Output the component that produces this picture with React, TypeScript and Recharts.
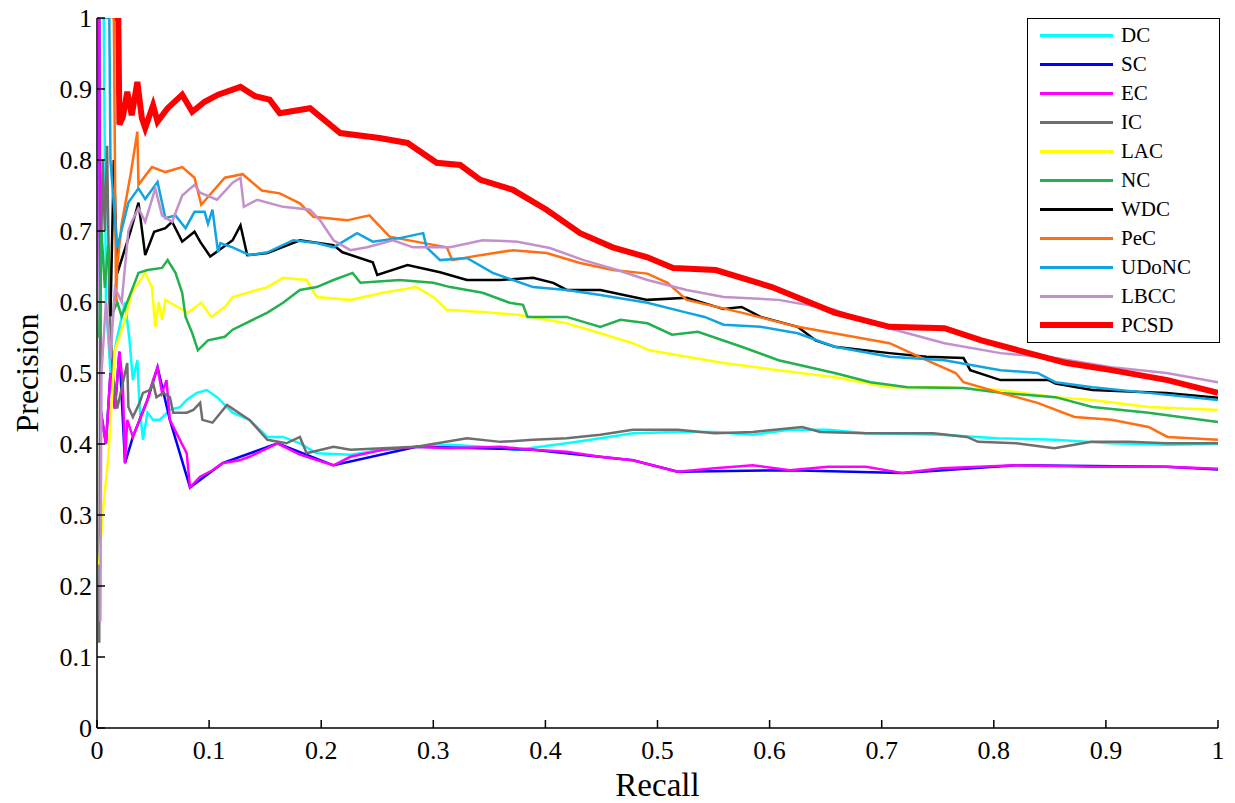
import React from 'react'
import { LineChart, Line, XAxis, YAxis, Legend } from 'recharts'

type Pt = [number, number]

const FONT = '"Liberation Serif", "Times New Roman", serif'

const axisTicks = [0, 0.1, 0.2, 0.3, 0.4, 0.5, 0.6, 0.7, 0.8, 0.9, 1]

// recall, precision
const dcPts: Pt[] = [
  [0.003, 1], [0.006, 1], [0.008, 0.6], [0.012, 0.5], [0.018, 0.55], [0.025, 0.6],
  [0.029, 0.546], [0.032, 0.49], [0.036, 0.518], [0.038, 0.452], [0.041, 0.406],
  [0.045, 0.444], [0.05, 0.434], [0.056, 0.434], [0.065, 0.448], [0.074, 0.452],
  [0.08, 0.462], [0.089, 0.472], [0.098, 0.476], [0.107, 0.466], [0.121, 0.444],
  [0.136, 0.434], [0.152, 0.41], [0.166, 0.41], [0.181, 0.401], [0.196, 0.387],
  [0.226, 0.385], [0.255, 0.392], [0.285, 0.396], [0.315, 0.399], [0.344, 0.396],
  [0.375, 0.392], [0.419, 0.401], [0.449, 0.408], [0.478, 0.415], [0.518, 0.417],
  [0.551, 0.417], [0.585, 0.413], [0.618, 0.42], [0.652, 0.42], [0.686, 0.415],
  [0.753, 0.413], [0.803, 0.408], [0.854, 0.406], [0.904, 0.401], [0.954, 0.399], [1, 0.4],
]

const scPts: Pt[] = [
  [0.002, 1], [0.003, 0.45], [0.008, 0.4], [0.012, 0.5], [0.016, 0.45], [0.02, 0.53],
  [0.025, 0.373], [0.032, 0.41], [0.045, 0.462], [0.054, 0.508], [0.065, 0.434],
  [0.083, 0.339], [0.112, 0.373], [0.161, 0.401], [0.211, 0.37], [0.285, 0.396],
  [0.389, 0.392], [0.478, 0.377], [0.518, 0.361], [0.618, 0.363], [0.719, 0.359],
  [0.82, 0.37], [0.954, 0.368], [1, 0.364],
]

const ecPts: Pt[] = [
  [0.002, 1], [0.003, 0.45], [0.008, 0.4], [0.012, 0.5], [0.016, 0.45], [0.02, 0.53],
  [0.023, 0.486], [0.025, 0.373], [0.027, 0.434], [0.032, 0.41], [0.038, 0.434],
  [0.045, 0.462], [0.05, 0.49], [0.054, 0.508], [0.058, 0.472], [0.062, 0.49],
  [0.065, 0.434], [0.071, 0.415], [0.08, 0.387], [0.083, 0.339], [0.092, 0.354],
  [0.103, 0.363], [0.112, 0.373], [0.127, 0.377], [0.136, 0.382], [0.161, 0.401],
  [0.172, 0.392], [0.181, 0.385], [0.211, 0.37], [0.226, 0.382], [0.255, 0.392],
  [0.285, 0.396], [0.315, 0.394], [0.36, 0.396], [0.389, 0.392], [0.419, 0.389],
  [0.449, 0.382], [0.478, 0.377], [0.501, 0.368], [0.518, 0.361], [0.551, 0.366],
  [0.585, 0.37], [0.618, 0.363], [0.652, 0.368], [0.686, 0.368], [0.719, 0.359],
  [0.753, 0.366], [0.82, 0.37], [0.887, 0.368], [0.954, 0.368], [1, 0.365],
]

const icPts: Pt[] = [
  [0.002, 0.12], [0.003, 0.6], [0.005, 0.8], [0.007, 0.7], [0.009, 0.82], [0.011, 0.6],
  [0.014, 0.5], [0.018, 0.45], [0.027, 0.514], [0.028, 0.452], [0.032, 0.438],
  [0.038, 0.458], [0.041, 0.472], [0.047, 0.476], [0.05, 0.486], [0.053, 0.466],
  [0.059, 0.472], [0.065, 0.466], [0.068, 0.444], [0.08, 0.444], [0.086, 0.448],
  [0.092, 0.458], [0.094, 0.434], [0.103, 0.43], [0.116, 0.455], [0.136, 0.434],
  [0.152, 0.406], [0.169, 0.401], [0.181, 0.41], [0.187, 0.387], [0.211, 0.396],
  [0.226, 0.392], [0.255, 0.394], [0.285, 0.396], [0.33, 0.408], [0.36, 0.403],
  [0.389, 0.406], [0.419, 0.408], [0.449, 0.413], [0.478, 0.42], [0.518, 0.42],
  [0.551, 0.415], [0.585, 0.417], [0.629, 0.424], [0.645, 0.417], [0.686, 0.415],
  [0.746, 0.415], [0.776, 0.41], [0.786, 0.403], [0.82, 0.401], [0.854, 0.394],
  [0.887, 0.403], [0.921, 0.403], [0.954, 0.401], [1, 0.401],
]

const lacPts: Pt[] = [
  [0.002, 0.23], [0.005, 0.3], [0.01, 0.38], [0.016, 0.532], [0.025, 0.575],
  [0.031, 0.613], [0.043, 0.641], [0.049, 0.621], [0.052, 0.565], [0.055, 0.6],
  [0.058, 0.575], [0.061, 0.603], [0.072, 0.593], [0.081, 0.585], [0.093, 0.599],
  [0.102, 0.579], [0.114, 0.593], [0.121, 0.607], [0.152, 0.621], [0.166, 0.634],
  [0.187, 0.631], [0.196, 0.607], [0.226, 0.603], [0.255, 0.613], [0.285, 0.621],
  [0.3, 0.607], [0.312, 0.589], [0.344, 0.586], [0.375, 0.582], [0.419, 0.57],
  [0.449, 0.556], [0.478, 0.542], [0.493, 0.532], [0.526, 0.523], [0.559, 0.514],
  [0.608, 0.504], [0.658, 0.494], [0.707, 0.48], [0.756, 0.48], [0.806, 0.476],
  [0.855, 0.466], [0.888, 0.462], [0.938, 0.452], [1, 0.448],
]

const ncPts: Pt[] = [
  [0.002, 0.55], [0.004, 0.7], [0.007, 0.62], [0.01, 0.68], [0.013, 0.58], [0.018, 0.6],
  [0.022, 0.58], [0.027, 0.6], [0.037, 0.641], [0.045, 0.645], [0.058, 0.648],
  [0.063, 0.659], [0.07, 0.641], [0.076, 0.613], [0.079, 0.579], [0.085, 0.556],
  [0.09, 0.532], [0.099, 0.546], [0.114, 0.551], [0.121, 0.561], [0.152, 0.585],
  [0.166, 0.599], [0.181, 0.617], [0.196, 0.621], [0.211, 0.631], [0.228, 0.641],
  [0.235, 0.627], [0.27, 0.631], [0.3, 0.627], [0.315, 0.621], [0.344, 0.613],
  [0.368, 0.599], [0.38, 0.596], [0.384, 0.579], [0.419, 0.579], [0.449, 0.565],
  [0.467, 0.575], [0.491, 0.57], [0.513, 0.554], [0.536, 0.558], [0.575, 0.537],
  [0.608, 0.518], [0.658, 0.5], [0.69, 0.487], [0.723, 0.48], [0.773, 0.479],
  [0.806, 0.472], [0.855, 0.466], [0.888, 0.452], [0.938, 0.444], [1, 0.431],
]

const wdcPts: Pt[] = [
  [0.012, 0.58], [0.015, 0.8], [0.018, 0.64], [0.022, 0.66], [0.03, 0.7], [0.037, 0.74],
  [0.043, 0.666], [0.051, 0.699], [0.061, 0.704], [0.067, 0.713], [0.076, 0.685],
  [0.087, 0.699], [0.092, 0.685], [0.101, 0.664], [0.121, 0.687], [0.128, 0.708],
  [0.134, 0.666], [0.152, 0.669], [0.181, 0.687], [0.211, 0.68], [0.219, 0.67],
  [0.246, 0.656], [0.25, 0.638], [0.277, 0.652], [0.306, 0.642], [0.33, 0.631],
  [0.36, 0.631], [0.389, 0.634], [0.407, 0.627], [0.419, 0.617], [0.449, 0.617],
  [0.491, 0.603], [0.526, 0.606], [0.559, 0.59], [0.575, 0.593], [0.592, 0.579],
  [0.625, 0.565], [0.641, 0.546], [0.658, 0.537], [0.707, 0.528], [0.74, 0.523],
  [0.773, 0.521], [0.779, 0.504], [0.806, 0.49], [0.849, 0.49], [0.855, 0.485],
  [0.888, 0.476], [0.954, 0.472], [1, 0.465],
]

const pecPts: Pt[] = [
  [0.013, 1], [0.015, 1], [0.017, 0.6], [0.018, 0.65], [0.022, 0.71], [0.03, 0.78],
  [0.036, 0.84], [0.037, 0.765], [0.049, 0.79], [0.061, 0.783], [0.076, 0.79],
  [0.087, 0.775], [0.093, 0.737], [0.114, 0.775], [0.13, 0.78], [0.147, 0.757],
  [0.163, 0.753], [0.181, 0.739], [0.193, 0.72], [0.223, 0.715], [0.243, 0.722],
  [0.261, 0.692], [0.288, 0.684], [0.312, 0.677], [0.317, 0.659], [0.342, 0.666],
  [0.371, 0.673], [0.401, 0.669], [0.431, 0.655], [0.46, 0.645], [0.491, 0.64],
  [0.509, 0.627], [0.526, 0.603], [0.575, 0.585], [0.625, 0.565], [0.707, 0.542],
  [0.74, 0.518], [0.766, 0.5], [0.773, 0.487], [0.806, 0.472], [0.839, 0.458],
  [0.872, 0.438], [0.905, 0.434], [0.938, 0.424], [0.955, 0.41], [1, 0.406],
]

const udoncPts: Pt[] = [
  [0.005, 1], [0.011, 1], [0.012, 0.8], [0.018, 0.676], [0.028, 0.74], [0.037, 0.76],
  [0.043, 0.745], [0.054, 0.769], [0.061, 0.718], [0.07, 0.722], [0.079, 0.704],
  [0.087, 0.727], [0.096, 0.727], [0.099, 0.71], [0.103, 0.73], [0.108, 0.67],
  [0.11, 0.683], [0.121, 0.677], [0.136, 0.666], [0.152, 0.67], [0.175, 0.687],
  [0.196, 0.683], [0.211, 0.677], [0.232, 0.697], [0.246, 0.685], [0.27, 0.69],
  [0.291, 0.697], [0.294, 0.677], [0.306, 0.659], [0.33, 0.662], [0.353, 0.641],
  [0.371, 0.631], [0.389, 0.621], [0.419, 0.617], [0.449, 0.61], [0.491, 0.599],
  [0.526, 0.585], [0.542, 0.579], [0.559, 0.568], [0.592, 0.565], [0.625, 0.556],
  [0.658, 0.537], [0.707, 0.523], [0.756, 0.518], [0.806, 0.504], [0.839, 0.5],
  [0.855, 0.487], [0.888, 0.48], [0.938, 0.472], [1, 0.462],
]

const lbccPts: Pt[] = [
  [0.003, 0.15], [0.004, 0.5], [0.008, 0.6], [0.012, 0.52], [0.016, 0.62], [0.022, 0.6],
  [0.028, 0.7], [0.031, 0.713], [0.037, 0.732], [0.043, 0.713], [0.052, 0.76],
  [0.058, 0.722], [0.067, 0.713], [0.076, 0.75], [0.087, 0.765], [0.092, 0.754],
  [0.107, 0.744], [0.121, 0.768], [0.128, 0.775], [0.131, 0.734], [0.143, 0.744],
  [0.166, 0.734], [0.19, 0.73], [0.199, 0.715], [0.211, 0.687], [0.226, 0.673],
  [0.241, 0.677], [0.264, 0.687], [0.282, 0.677], [0.315, 0.677], [0.344, 0.687],
  [0.375, 0.685], [0.404, 0.676], [0.434, 0.659], [0.464, 0.645], [0.491, 0.631],
  [0.526, 0.617], [0.559, 0.607], [0.608, 0.603], [0.658, 0.589], [0.69, 0.57],
  [0.723, 0.556], [0.756, 0.542], [0.806, 0.528], [0.855, 0.521], [0.905, 0.508],
  [0.954, 0.5], [1, 0.487],
]

const pcsdPts: Pt[] = [
  [0.016, 1], [0.019, 1], [0.02, 0.85], [0.023, 0.86], [0.027, 0.896], [0.031, 0.863],
  [0.036, 0.91], [0.04, 0.859], [0.043, 0.845], [0.05, 0.877], [0.054, 0.854],
  [0.063, 0.873], [0.076, 0.892], [0.085, 0.868], [0.096, 0.882], [0.108, 0.892],
  [0.128, 0.903], [0.141, 0.89], [0.154, 0.885], [0.163, 0.866], [0.19, 0.873],
  [0.217, 0.838], [0.252, 0.831], [0.277, 0.824], [0.303, 0.796], [0.324, 0.793],
  [0.342, 0.772], [0.371, 0.758], [0.401, 0.73], [0.431, 0.697], [0.46, 0.677],
  [0.491, 0.663], [0.514, 0.648], [0.552, 0.645], [0.602, 0.621], [0.658, 0.585],
  [0.707, 0.565], [0.756, 0.563], [0.789, 0.546], [0.822, 0.532], [0.865, 0.514],
  [0.905, 0.504], [0.955, 0.49], [1, 0.472],
]

const series = [
  { name: 'DC', color: '#00ffff', width: 2.5, pts: dcPts },
  { name: 'SC', color: '#0000ff', width: 2.5, pts: scPts },
  { name: 'EC', color: '#ff00ff', width: 2.5, pts: ecPts },
  { name: 'IC', color: '#6e6e6e', width: 2.5, pts: icPts },
  { name: 'LAC', color: '#ffff00', width: 2.5, pts: lacPts },
  { name: 'NC', color: '#22b14c', width: 2.5, pts: ncPts },
  { name: 'WDC', color: '#000000', width: 2.5, pts: wdcPts },
  { name: 'PeC', color: '#ff6f12', width: 2.5, pts: pecPts },
  { name: 'UDoNC', color: '#10a4e0', width: 2.5, pts: udoncPts },
  { name: 'LBCC', color: '#c390cc', width: 2.5, pts: lbccPts },
  { name: 'PCSD', color: '#ff0000', width: 6, pts: pcsdPts },
]

const fmt = (v: number) => String(Number(v.toFixed(1)))

const textStyle = { fontFamily: FONT, fill: '#000' }

function XTick({ x, y, payload }: any) {
  return (
    <text x={x} y={y} dy="0.71em" textAnchor="middle" fontSize={26} style={textStyle}>
      {fmt(payload.value)}
    </text>
  )
}

function YTick({ x, y, payload }: any) {
  return (
    <text x={x} y={y} dy="0.36em" textAnchor="end" fontSize={26} style={textStyle}>
      {fmt(payload.value)}
    </text>
  )
}

function XTitle({ viewBox }: any) {
  const { x, y, width, height } = viewBox
  return (
    <text x={x + width / 2} y={y + height - 7} textAnchor="middle" fontSize={33} style={textStyle}>
      Recall
    </text>
  )
}

function YTitle({ viewBox }: any) {
  const { y, height } = viewBox
  const cx = 26
  const cy = y + height / 2
  return (
    <text
      x={cx}
      y={cy}
      dy="0.36em"
      textAnchor="middle"
      fontSize={32}
      transform={`rotate(-90 ${cx} ${cy})`}
      style={textStyle}
    >
      Precision
    </text>
  )
}

function LegendBox() {
  return (
    <div
      style={{
        width: 193,
        height: 325,
        boxSizing: 'border-box',
        border: '1.5px solid #000',
        background: '#fff',
        paddingTop: 1.5,
        fontFamily: FONT,
      }}
    >
      {series.map((s) => (
        <div key={s.name} style={{ height: 29, display: 'flex', alignItems: 'center' }}>
          <div
            style={{
              marginLeft: 12,
              width: 73,
              height: s.name === 'PCSD' ? 6 : 3,
              background: s.color,
            }}
          />
          <span style={{ marginLeft: 8, fontSize: 21, color: '#000', lineHeight: '29px' }}>
            {s.name}
          </span>
        </div>
      ))}
    </div>
  )
}

export default function App() {
  return (
    <div style={{ position: 'absolute', left: 0, top: 0, background: '#fff', fontFamily: FONT }}>
      <LineChart width={1235} height={803} margin={{ top: 18, right: 17, bottom: 0, left: 0 }}>
        <XAxis
          dataKey="x"
          type="number"
          domain={[0, 1]}
          ticks={axisTicks}
          allowDataOverflow
          height={75}
          tickSize={-8}
          tickMargin={21}
          tick={<XTick />}
          axisLine={{ stroke: '#000', strokeWidth: 1.5 }}
          tickLine={{ stroke: '#000', strokeWidth: 1.5 }}
          label={<XTitle />}
        />
        <XAxis
          xAxisId="top"
          orientation="top"
          type="number"
          domain={[0, 1]}
          ticks={axisTicks}
          tickFormatter={() => ''}
          height={0}
          tickSize={-8}
          axisLine={{ stroke: '#000', strokeWidth: 1.5 }}
          tickLine={{ stroke: '#000', strokeWidth: 1.5 }}
        />
        <YAxis
          type="number"
          domain={[0, 1]}
          ticks={axisTicks}
          allowDataOverflow
          width={97}
          tickSize={-8}
          tickMargin={13}
          tick={<YTick />}
          axisLine={{ stroke: '#000', strokeWidth: 1.5 }}
          tickLine={{ stroke: '#000', strokeWidth: 1.5 }}
          label={<YTitle />}
        />
        <YAxis
          yAxisId="right"
          orientation="right"
          type="number"
          domain={[0, 1]}
          ticks={axisTicks}
          tickFormatter={() => ''}
          width={0}
          tickSize={-8}
          axisLine={{ stroke: '#000', strokeWidth: 1.5 }}
          tickLine={{ stroke: '#000', strokeWidth: 1.5 }}
        />
        {series.map((s) => (
          <Line
            key={s.name}
            name={s.name}
            data={s.pts.map(([x, y]) => ({ x, y }))}
            dataKey="y"
            type="linear"
            stroke={s.color}
            strokeWidth={s.width}
            dot={false}
            activeDot={false}
            isAnimationActive={false}
          />
        ))}
        <Legend
          layout="vertical"
          align="center"
          verticalAlign="middle"
          content={<LegendBox />}
          wrapperStyle={{ left: 1027, top: 18, width: 193, height: 325 }}
        />
      </LineChart>
    </div>
  )
}
